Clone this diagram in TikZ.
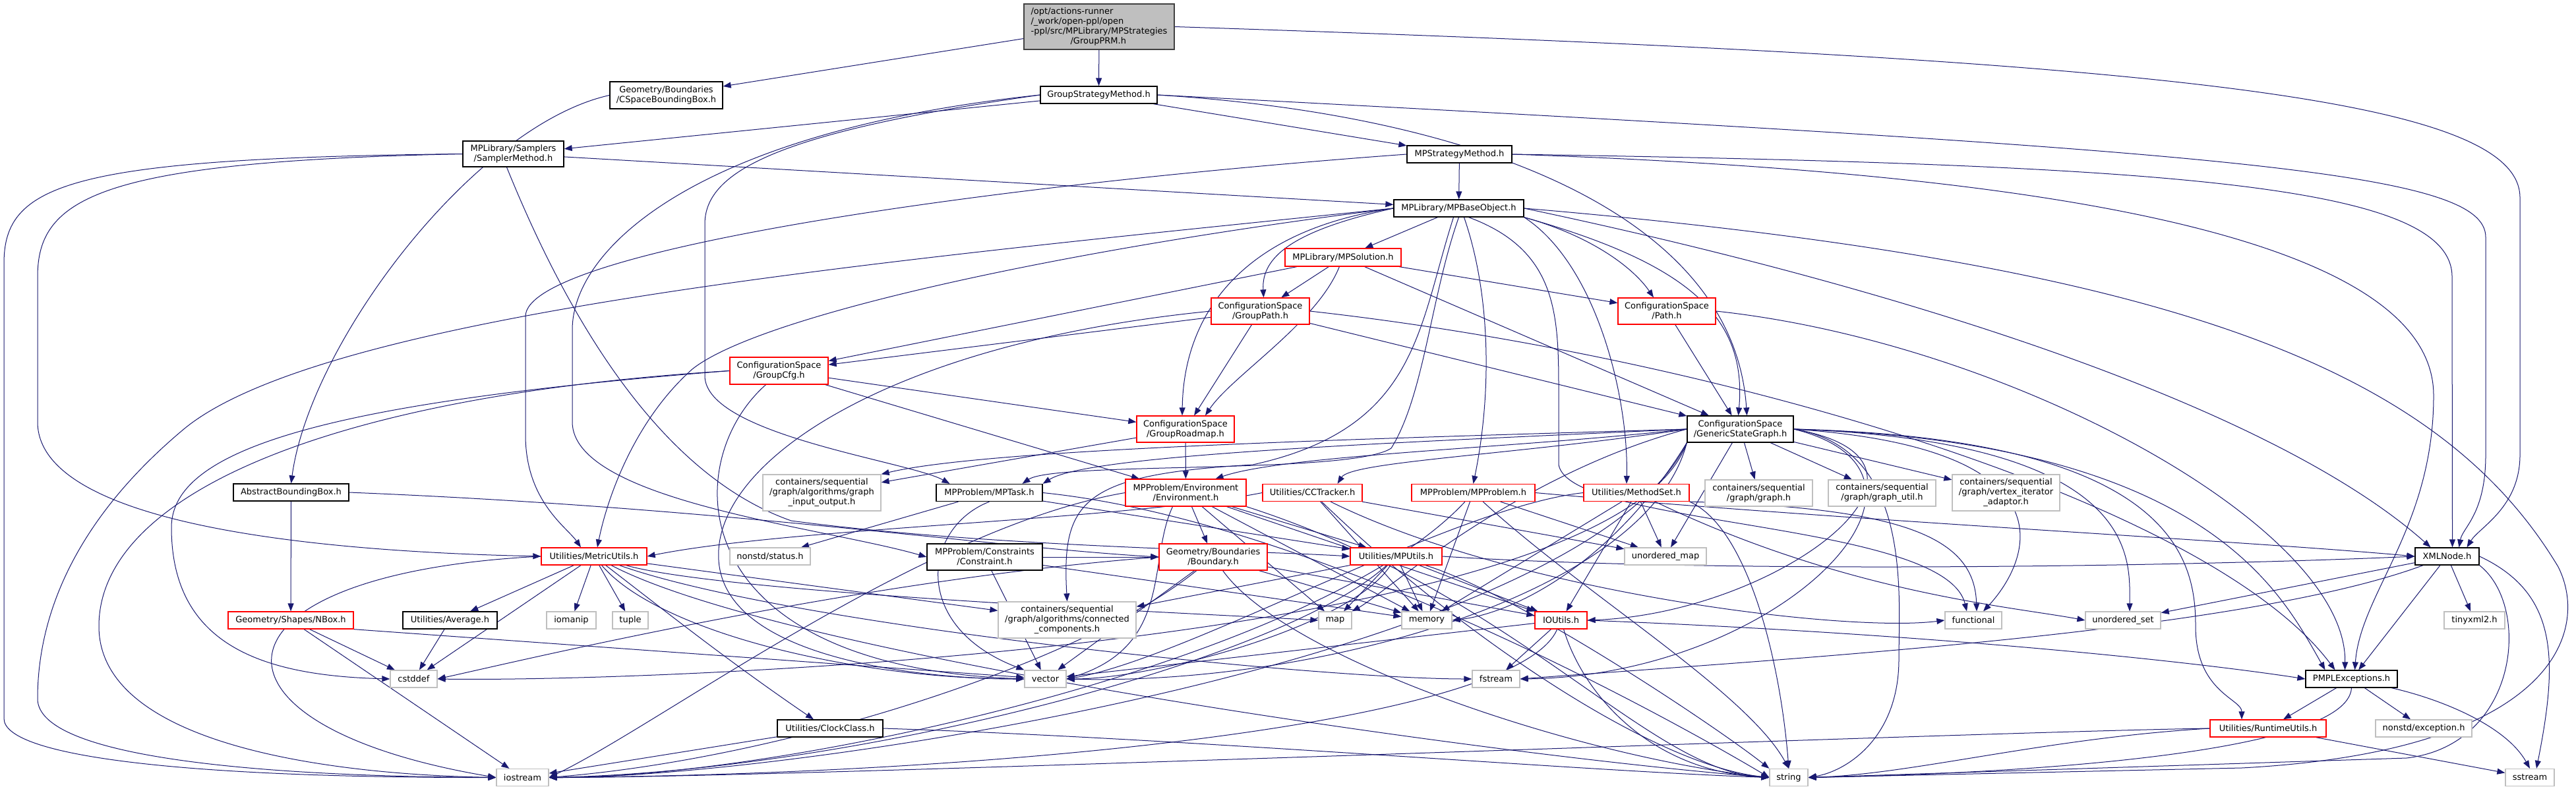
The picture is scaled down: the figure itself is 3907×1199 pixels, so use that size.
\documentclass[tikz,border=0pt]{standalone}
\usepackage{fontspec}
\setmainfont{DejaVu Sans}
\usetikzlibrary{arrows.meta}
\definecolor{eb}{HTML}{191970}
\definecolor{gb}{HTML}{BFBFBF}
\definecolor{rb}{HTML}{404040}
\pgfdeclarelayer{bg}
\pgfsetlayers{bg,main}
\newcommand\fs{\fontsize{13}{15}\selectfont}
\newcommand\nd[7]{\node[#6,minimum width=#4pt,minimum height=#5pt] (#1) at (#2,#3) {#7};}
\begin{document}
\begin{tikzpicture}[x=1pt,y=-1pt,
  e/.style={draw=eb,line width=1pt,-{Triangle[length=12pt,width=9pt]}},
  nb/.style={draw=black,line width=1.3pt,fill=white,inner sep=0pt,align=center,font=\fs},
  nr/.style={nb,draw=red},
  ng/.style={nb,draw=gb},
  nroot/.style={nb,draw=rb,fill=gb,align=left}]
\useasboundingbox (0,0) rectangle (3907,1199);
% nodes
\nd{root}{1667}{40.5}{228}{69}{nroot}{/opt/actions-runner\\/\_work/open-ppl/open\\-ppl/src/MPLibrary/MPStrategies\\\hspace*{60pt}/GroupPRM.h}
\nd{cbb}{1010.5}{144.5}{171}{41}{nb}{Geometry/Boundaries\\/CSpaceBoundingBox.h}
\nd{gsm}{1666.5}{144}{177}{26}{nb}{GroupStrategyMethod.h}
\nd{sampler}{778.5}{233.5}{153}{39}{nb}{MPLibrary/Samplers\\/SamplerMethod.h}
\nd{mpsm}{2213.5}{234}{159}{26}{nb}{MPStrategyMethod.h}
\nd{mpbo}{2212.5}{316}{197}{26}{nb}{MPLibrary/MPBaseObject.h}
\nd{mpsol}{2037}{390.5}{176}{27}{nr}{MPLibrary/MPSolution.h}
\nd{gpath}{1911.5}{472}{149}{40}{nr}{ConfigurationSpace\\/GroupPath.h}
\nd{path}{2528}{472}{148}{40}{nr}{ConfigurationSpace\\/Path.h}
\nd{gcfg}{1181.5}{562.5}{149}{41}{nr}{ConfigurationSpace\\/GroupCfg.h}
\nd{groad}{1798}{651}{148}{40}{nr}{ConfigurationSpace\\/GroupRoadmap.h}
\nd{gsg}{2639.5}{651}{161}{40}{nb}{ConfigurationSpace\\/GenericStateGraph.h}
\nd{abb}{441.5}{747}{175}{26}{nb}{AbstractBoundingBox.h}
\nd{gio}{1246.5}{747.5}{179}{55}{ng}{containers/sequential\\/graph/algorithms/graph\\\_input\_output.h}
\nd{mptask}{1500.5}{747.5}{161}{26}{nb}{MPProblem/MPTask.h}
\nd{env}{1798.5}{747.5}{183}{41}{nr}{MPProblem/Environment\\/Environment.h}
\nd{cct}{1990.5}{747.5}{151}{26}{nr}{Utilities/CCTracker.h}
\nd{mpp}{2234.5}{747.5}{187}{26}{nr}{MPProblem/MPProblem.h}
\nd{mset}{2482}{747.5}{160}{26}{nr}{Utilities/MethodSet.h}
\nd{ggraph}{2667.5}{748}{163}{40}{ng}{containers/sequential\\/graph/graph.h}
\nd{gutil}{2854.5}{748}{163}{40}{ng}{containers/sequential\\/graph/graph\_util.h}
\nd{gvia}{3042.5}{747.5}{163}{55}{ng}{containers/sequential\\/graph/vertex\_iterator\\\_adaptor.h}
\nd{metric}{901}{844}{160}{26}{nr}{Utilities/MetricUtils.h}
\nd{status}{1168}{844}{122}{26}{ng}{nonstd/status.h}
\nd{constraint}{1493.5}{845}{175}{40}{nb}{MPProblem/Constraints\\/Constraint.h}
\nd{boundary}{1840}{845}{164}{40}{nr}{Geometry/Boundaries\\/Boundary.h}
\nd{mputils}{2117.5}{844}{139}{26}{nr}{Utilities/MPUtils.h}
\nd{umap}{2526}{844}{124}{26}{ng}{unordered\_map}
\nd{xml}{3711.5}{844}{97}{26}{nb}{XMLNode.h}
\nd{nbox}{441}{941}{190}{26}{nr}{Geometry/Shapes/NBox.h}
\nd{average}{682.5}{941}{143}{26}{nb}{Utilities/Average.h}
\nd{iomanip}{866.5}{941}{75}{26}{ng}{iomanip}
\nd{tuple}{956}{941}{54}{26}{ng}{tuple}
\nd{ccomp}{1618.5}{940.5}{209}{55}{ng}{containers/sequential\\/graph/algorithms/connected\\\_components.h}
\nd{map}{2025}{941}{50}{26}{ng}{map}
\nd{memory}{2164}{941}{76}{26}{ng}{memory}
\nd{ioutils}{2367.5}{941}{79}{26}{nr}{IOUtils.h}
\nd{functional}{2993}{941}{86}{26}{ng}{functional}
\nd{uset}{3220}{941}{114}{26}{ng}{unordered\_set}
\nd{tinyxml}{3753}{941}{92}{26}{ng}{tinyxml2.h}
\nd{cstddef}{627.5}{1030}{71}{26}{ng}{cstddef}
\nd{vector}{1585.5}{1030}{63}{26}{ng}{vector}
\nd{fstream}{2269}{1030}{72}{26}{ng}{fstream}
\nd{pmpl}{3566.5}{1030}{139}{26}{nb}{PMPLExceptions.h}
\nd{clock}{1259}{1105}{160}{26}{nb}{Utilities/ClockClass.h}
\nd{runtime}{3440}{1105}{176}{26}{nr}{Utilities/RuntimeUtils.h}
\nd{nexc}{3676}{1105}{146}{26}{ng}{nonstd/exception.h}
\nd{iostream}{792.5}{1179.5}{79}{26}{ng}{iostream}
\nd{string}{2713}{1179.5}{58}{26}{ng}{string}
\nd{sstream}{3837}{1179.5}{74}{26}{ng}{sstream}
\begin{pgfonlayer}{bg}
\fill[white] (0,0) rectangle (3907,1199);
% root
\draw[e] (root) -- (cbb);
\draw[e] (root) -- (gsm);
\draw[e] (root.east) .. controls (3300,90) and (3822,150) .. (3822,300) -- (3822,690) .. controls (3822,770) and (3760,800) .. ([xshift=30]xml.north);
% cbb
\draw[e] (cbb.west) .. controls (720,190) and (470,520) .. (abb.north);
% gsm
\draw[e] (gsm) -- (sampler);
\draw[e] (gsm) -- (mpsm);
\draw[e] (gsm.east) .. controls (2250,175) and (2630,330) .. ([xshift=10]gsg.north);
\draw[e] (gsm.east) .. controls (3400,230) and (3770,260) .. (3770,360) -- (3770,690) .. controls (3770,780) and (3735,800) .. ([xshift=18]xml.north);
\draw[e] (gsm.west) .. controls (1180,200) and (1069,260) .. (1069,340) -- (1069,570) .. controls (1069,660) and (1380,700) .. ([xshift=-60]mptask.north);
\draw[e] (gsm.west) .. controls (1050,200) and (868,380) .. (868,500) -- (868,640) .. controls (868,760) and (1250,800) .. (constraint.west);
% sampler
\draw[e] (sampler) -- (mpbo);
\draw[e] (sampler.west) .. controls (150,245) and (57,300) .. (57,420) -- (57,640) .. controls (57,780) and (400,835) .. (metric.west);
\draw[e] (sampler.west) .. controls (100,240) and (6,280) .. (6,400) -- (6,1090) .. controls (6,1150) and (300,1180) .. (iostream.west);
\draw[e] ([xshift=-10]sampler.south) .. controls (860,480) and (1000,720) .. (1200,790) .. controls (1500,830) and (1900,835) .. (mputils.west);
% mpsm
\draw[e] (mpsm) -- (mpbo);
\draw[e] (mpsm.east) .. controls (3300,250) and (3719,280) .. (3719,420) -- ([xshift=8]xml.north);
\draw[e] (mpsm.east) .. controls (3200,265) and (3691,380) .. (3691,600) .. controls (3691,800) and (3580,900) .. ([xshift=5]pmpl.north);
\draw[e] (mpsm.west) .. controls (1500,280) and (797,380) .. (797,480) -- (797,660) .. controls (797,760) and (860,800) .. ([xshift=-20]metric.north);
% mpbo
\draw[e] (mpbo) -- (mpsol);
\draw[e] (mpbo.west) .. controls (1960,350) and (1913,390) .. ([xshift=5]gpath.north);
\draw[e] (mpbo.south east) .. controls (2420,360) and (2480,410) .. ([xshift=-20]path.north);
\draw[e] (mpbo.west) .. controls (1880,350) and (1795,480) .. ([xshift=-5]groad.north);
\draw[e] (mpbo.south east) .. controls (2560,400) and (2650,480) .. ([xshift=-3]gsg.north);
\draw[e] (mpbo.south) .. controls (2170,450) and (2160,600) .. (2110,680) .. controls (2050,720) and (1600,700) .. ([xshift=50]mptask.north);
\draw[e] ([xshift=-8]mpbo.south) .. controls (2150,500) and (2150,650) .. (1900,705) .. controls (1640,720) and (1610,760) .. (ccomp.north);
\draw[e] ([xshift=8]mpbo.south) .. controls (2262,450) and (2262,600) .. (mpp.north);
\draw[e] (mpbo.south east) .. controls (2420,400) and (2470,600) .. ([xshift=-15]mset.north);
\draw[e] (mpbo.east) .. controls (2900,440) and (3450,620) .. ([xshift=-25]xml.north);
\draw[e] (mpbo.east) .. controls (3300,400) and (3700,560) .. (3880,860) .. controls (3930,960) and (3870,1140) .. (3400,1165) -- (string.east);
\draw[e] (mpbo.west) .. controls (1400,390) and (500,470) .. (280,650) .. controls (100,800) and (57,950) .. (57,1060) .. controls (57,1150) and (400,1178) .. (iostream.west);
\draw[e] (mpbo.west) .. controls (1600,380) and (1150,480) .. (1050,560) .. controls (960,640) and (920,760) .. ([xshift=5]metric.north);
\draw[e] ([xshift=15]mpbo.south) .. controls (2364,380) and (2364,480) .. (2364,600) -- (2364,705) .. controls (2380,800) and (2950,790) .. ([xshift=-10]functional.north);
% mpsol
\draw[e] (mpsol) -- (gpath);
\draw[e] (mpsol) .. controls +(-40,100) and +(40,-60) .. ([xshift=30]groad.north);
\draw[e] (mpsol) -- (gsg);
\draw[e] (mpsol) -- (path);
\draw[e] (mpsol) -- (gcfg);
% gpath
\draw[e] (gpath) -- (gcfg);
\draw[e] (gpath) -- (groad);
\draw[e] (gpath) -- (gsg);
\draw[e] (gpath.east) .. controls (2600,540) and (3350,760) .. ([xshift=-25]pmpl.north);
\draw[e] (gpath.west) .. controls (1350,520) and (1080,700) .. (1090,850) .. controls (1100,1000) and (1400,1030) .. (vector.west);
% path
\draw[e] (path) -- (gsg);
\draw[e] (path.east) .. controls (3050,520) and (3560,800) .. ([xshift=-10]pmpl.north);
% gcfg
\draw[e] (gcfg) -- (groad);
\draw[e] (gcfg) -- (env);
\draw[e] ([xshift=-20]gcfg.south) .. controls (1030,700) and (1030,1010) .. (vector.west);
\draw[e] (gcfg.west) .. controls (500,600) and (150,750) .. (150,950) .. controls (150,1130) and (500,1175) .. (iostream.west);
\draw[e] (gcfg.west) .. controls (500,610) and (260,680) .. (260,800) .. controls (260,980) and (400,1025) .. (cstddef.west);
% groad
\draw[e] (groad) -- (env);
\draw[e] (groad) -- (gio);
% gsg
\draw[e] (gsg.west) .. controls (2300,680) and (1950,690) .. ([xshift=45]env.north);
\draw[e] (gsg.west) .. controls (2300,690) and (2050,700) .. ([xshift=38]cct.north);
\draw[e] (gsg.west) .. controls (2100,665) and (1500,680) .. (gio.north east);
\draw[e] (gsg.west) .. controls (2100,672) and (1650,690) .. (mptask.north east);
\draw[e] (gsg.south west) .. controls (2500,900) and (2000,1040) .. (vector.east);
\draw[e] (gsg.south west) .. controls (2400,1000) and (1200,1180) .. (iostream.east);
\draw[e] (gsg.south west) .. controls (2450,980) and (1000,1035) .. (cstddef.east);
\draw[e] (gsg.south west) .. controls (2450,850) and (2300,930) .. (memory.east);
\draw[e] (gsg.west) .. controls (2300,720) and (2100,900) .. (map.north east);
\draw[e] (gsg) -- (umap);
\draw[e] (gsg) -- (ggraph);
\draw[e] (gsg) -- (gutil);
\draw[e] (gsg) -- (gvia);
\draw[e] (gsg.east) .. controls (2900,680) and (2880,900) .. (2880,1000) .. controls (2880,1120) and (2800,1170) .. (string.east);
\draw[e] (gsg.east) .. controls (3150,680) and (3080,850) .. ([xshift=15]functional.north);
\draw[e] (gsg.east) .. controls (3250,670) and (3230,850) .. ([xshift=10]uset.north);
\draw[e] (gsg.east) .. controls (3350,670) and (3460,900) .. ([xshift=-40]pmpl.north);
\draw[e] (gsg.east) .. controls (3300,665) and (3330,850) .. (3330,950) .. controls (3330,1050) and (3400,1060) .. ([xshift=-40]runtime.north);
\draw[e] (gsg.east) .. controls (3000,700) and (2700,930) .. (ioutils.east);
\draw[e] (gsg.east) .. controls (3000,720) and (2700,1025) .. (fstream.east);
% abb
\draw[e] (abb) -- (nbox);
\draw[e] (abb.east) .. controls (1100,770) and (1500,830) .. (boundary.west);
% mptask
\draw[e] (mptask) -- (status);
\draw[e] (mptask.south) .. controls (1400,800) and (1380,950) .. (vector.north west);
\draw[e] (mptask) -- (mputils);
\draw[e] (mptask.east) .. controls (2000,790) and (2550,1100) .. (string.west);
% constraint
\draw[e] (constraint) -- (boundary);
\draw[e] (constraint) -- (vector);
\draw[e] (constraint) -- (memory);
% env
\draw[e] (env.west) .. controls (1400,800) and (1000,1100) .. (iostream.east);
\draw[e] ([xshift=-20]env.south) .. controls (1740,850) and (1780,980) .. (vector.east);
\draw[e] (env) -- (boundary);
\draw[e] (env) -- (map);
\draw[e] (env) -- (mputils);
\draw[e] (env) -- (memory);
\draw[e] (env.south east) .. controls (2300,900) and (2500,1170) .. (string.west);
\draw[e] (env) -- (ioutils);
% cct
\draw[e] (cct.west) .. controls (1700,790) and (1200,800) .. (metric.east);
\draw[e] (cct) -- (memory);
\draw[e] (cct) -- (umap);
\draw[e] (cct) .. controls (2300,900) and (2800,960) .. (functional.west);
\draw[e] (cct) .. controls (2200,950) and (2500,1160) .. (string.west);
% mpp
\draw[e] (mpp) -- (umap);
\draw[e] (mpp) -- (memory);
\draw[e] (mpp) .. controls (2400,900) and (2650,1050) .. (string.north);
\draw[e] (mpp.east) .. controls (2800,790) and (3400,820) .. (xml.west);
\draw[e] (mpp) .. controls (2000,1000) and (1200,1180) .. (iostream.east);
% mset
\draw[e] (mset) -- (umap);
\draw[e] (mset.south east) .. controls (2900,770) and (2995,820) .. ([xshift=5]functional.north);
\draw[e] (mset) .. controls (2800,900) and (3050,920) .. (uset.west);
\draw[e] (mset.south east) .. controls (2650,800) and (2700,1000) .. (string.north);
\draw[e] (mset) -- (ioutils);
\draw[e] (mset) -- (memory);
\draw[e] (mset.west) .. controls (2200,770) and (1800,1000) .. (vector.east);
% metric
\draw[e] (metric) -- (average);
\draw[e] (metric) -- (cstddef);
\draw[e] (metric) -- (iomanip);
\draw[e] (metric) -- (tuple);
\draw[e] (metric) .. controls (1000,920) and (1100,1000) .. ([xshift=-25]clock.north);
\draw[e] (metric) .. controls (1000,960) and (1300,1030) .. (vector.west);
\draw[e] (metric) .. controls (1100,900) and (1800,930) .. (map.west);
\draw[e] (metric) .. controls (1200,950) and (2000,1030) .. (fstream.west);
\draw[e] (metric) .. controls (1200,1000) and (2300,1150) .. (string.west);
\draw[e] (metric) -- (ccomp);
\draw[e] (metric.west) .. controls (300,870) and (280,1100) .. (iostream.west);
% boundary
\draw[e] (boundary) -- (vector);
\draw[e] (boundary) -- (memory);
\draw[e] (boundary) .. controls (1950,1000) and (2400,1150) .. (string.west);
\draw[e] (boundary) .. controls (1650,1000) and (1200,1150) .. (iostream.east);
\draw[e] (boundary.west) .. controls (1300,880) and (800,1000) .. (cstddef.east);
\draw[e] (boundary) -- (ioutils);
% mputils
\draw[e] (mputils) -- (map);
\draw[e] (mputils) -- (memory);
\draw[e] (mputils) -- (ioutils);
\draw[e] (mputils) .. controls (2050,950) and (1750,1030) .. (vector.east);
\draw[e] (mputils) -- (ccomp);
\draw[e] (mputils) .. controls (2300,900) and (2600,1100) .. (string.north west);
\draw[e] (mputils) .. controls (1950,1000) and (1300,1170) .. (iostream.east);
\draw[e] (mputils.east) .. controls (2600,870) and (3300,860) .. (xml.west);
% xml
\draw[e] (xml) -- (uset);
\draw[e] (xml) .. controls (3400,960) and (2700,1000) .. (fstream.east);
\draw[e] (xml) -- (pmpl);
\draw[e] (xml) -- (tinyxml);
\draw[e] (xml.south east) .. controls (3840,920) and (3820,1130) .. (3650,1150) -- (string.east);
\draw[e] (xml.east) .. controls (3880,900) and (3880,1000) .. ([xshift=10]sstream.north);
% nbox
\draw[e] (nbox) -- (cstddef);
\draw[e] (nbox) -- (iostream);
\draw[e] (nbox.south east) -- (vector);
% average
\draw[e] (average) -- (cstddef);
% ioutils
\draw[e] (ioutils) -- (fstream);
\draw[e] (ioutils) .. controls (2400,1050) and (2500,1170) .. (string.west);
\draw[e] (ioutils) -- (vector);
\draw[e] (ioutils) .. controls (2300,1100) and (1500,1175) .. (iostream.east);
\draw[e] (ioutils.east) .. controls (2900,960) and (3300,1000) .. (pmpl.west);
% pmpl
\draw[e] (pmpl) -- (runtime);
\draw[e] (pmpl) -- (nexc);
\draw[e] (pmpl.south) .. controls (3560,1150) and (3000,1175) .. (string.east);
\draw[e] (pmpl) .. controls (3700,1060) and (3800,1100) .. (sstream.north);
% runtime
\draw[e] (runtime.west) .. controls (3000,1110) and (1200,1180) .. (iostream.east);
\draw[e] (runtime.west) .. controls (3100,1120) and (2900,1175) .. (string.east);
\draw[e] (runtime) -- (sstream);
% clock
\draw[e] (clock) -- (iostream);
\draw[e] (clock.east) .. controls (1800,1120) and (2400,1170) .. (string.west);
\end{pgfonlayer}
\end{tikzpicture}
\end{document}
